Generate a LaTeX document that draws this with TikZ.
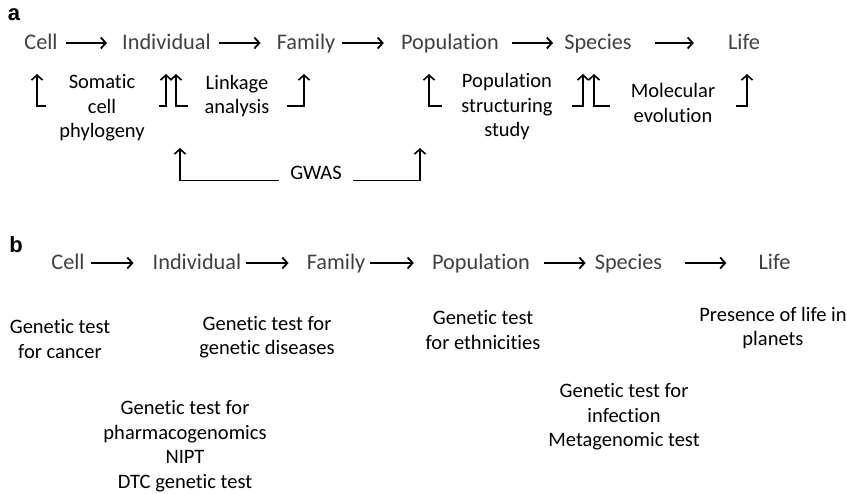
\documentclass[tikz,border=0pt]{standalone}
\usepackage{fontspec}
\setmainfont{Carlito}[Ligatures=NoCommon]
\newfontfamily\panelfont{Liberation Sans}
\usetikzlibrary{arrows.meta}

\tikzset{
	level/.style={inner sep=0pt, text height=14pt, text depth=0pt, text=black!75, font=\fontsize{22.3}{26}\selectfont},
	note/.style={inner sep=0pt, align=center, font=\fontsize{20.5}{24.5}\selectfont},
	panel/.style={inner sep=0pt, font=\panelfont\bfseries\fontsize{22}{24}\selectfont},
	flow/.style={line width=1.8pt, -{Straight Barb[length=5pt,width=11pt]}},
	hook/.style={line width=1.6pt, -{Straight Barb[length=5pt,width=11pt]}}
}

\begin{document}
\begin{tikzpicture}[x=1pt,y=-1pt]
	\useasboundingbox (0,0) rectangle (847,494);

	% panel a
	\node[panel] (labA) at (14,15) {a};
	\node[level] (cellA) at (41,43) {Cell};
	\node[level] (indA) at (166.5,43) {Individual};
	\node[level] (famA) at (306,43) {Family};
	\node[level] (popA) at (450,43) {Population};
	\node[level] (spcA) at (598,43) {Species};
	\node[level] (lifeA) at (744,43) {Life};
	\draw[flow,shorten <=8pt,shorten >=15pt] (cellA) -- (indA);
	\draw[flow,shorten <=8pt,shorten >=16pt] (indA) -- (famA);
	\draw[flow,shorten <=7pt,shorten >=17pt] (famA) -- (popA);
	\draw[flow,shorten <=13pt,shorten >=11pt] (popA) -- (spcA);
	\draw[flow,shorten <=23pt,shorten >=34pt] (spcA) -- (lifeA);

	\node[note] (somatic) at (102,108) {Somatic\\cell\\phylogeny};
	\node[note] (linkage) at (237,96) {Linkage\\analysis};
	\node[note] (structure) at (507,107) {Population\\structuring\\study};
	\node[note] (molecular) at (673,103) {Molecular\\evolution};
	\node[note,anchor=base] (gwas) at (316,180) {GWAS};

	\coordinate (h1a) at (46,106);  \coordinate (h1b) at (37,74);
	\coordinate (h2a) at (159,106); \coordinate (h2b) at (166,74);
	\coordinate (h3a) at (188,106); \coordinate (h3b) at (176,74);
	\coordinate (h4a) at (287,106); \coordinate (h4b) at (304,74);
	\coordinate (h5a) at (442,106); \coordinate (h5b) at (429,74);
	\coordinate (h6a) at (572,106); \coordinate (h6b) at (583,74);
	\coordinate (h7a) at (610,106); \coordinate (h7b) at (594,74);
	\coordinate (h8a) at (736,106); \coordinate (h8b) at (747,74);
	\draw[hook] (h1a) -| (h1b);
	\draw[hook] (h2a) -| (h2b);
	\draw[hook] (h3a) -| (h3b);
	\draw[hook] (h4a) -| (h4b);
	\draw[hook] (h5a) -| (h5b);
	\draw[hook] (h6a) -| (h6b);
	\draw[hook] (h7a) -| (h7b);
	\draw[hook] (h8a) -| (h8b);

	\coordinate (g1) at (180,148);
	\coordinate (g2) at (420,148);
	\draw[hook,shorten <=11pt] (gwas.south west) -| (g1);
	\draw[hook,shorten <=11pt] (gwas.south east) -| (g2);

	% panel b
	\node[panel] (labB) at (16,245) {b};
	\node[level] (cellB) at (68,263) {Cell};
	\node[level] (indB) at (197,263) {Individual};
	\node[level] (famB) at (336,263) {Family};
	\node[level] (popB) at (481,263) {Population};
	\node[level] (spcB) at (628.5,263) {Species};
	\node[level] (lifeB) at (774.5,263) {Life};
	\draw[flow,shorten <=6pt,shorten >=19pt] (cellB) -- (indB);
	\draw[flow,shorten <=5pt,shorten >=18pt] (indB) -- (famB);
	\draw[flow,shorten <=5pt,shorten >=18pt] (famB) -- (popB);
	\draw[flow,shorten <=14pt,shorten >=9pt] (popB) -- (spcB);
	\draw[flow,shorten <=23pt,shorten >=32pt] (spcB) -- (lifeB);

	\node[note] (cancer) at (60,339) {Genetic test\\for cancer};
	\node[note] (disease) at (267,337) {Genetic test for\\genetic diseases};
	\node[note] (ethnic) at (483,330) {Genetic test\\for ethnicities};
	\node[note] (planet) at (773,328) {Presence of life in\\planets};
	\node[note] (pharma) at (185,446) {Genetic test for\\pharmacogenomics\\NIPT\\DTC genetic test};
	\node[note] (infect) at (624,417) {Genetic test for\\infection\\Metagenomic test};
\end{tikzpicture}
\end{document}
